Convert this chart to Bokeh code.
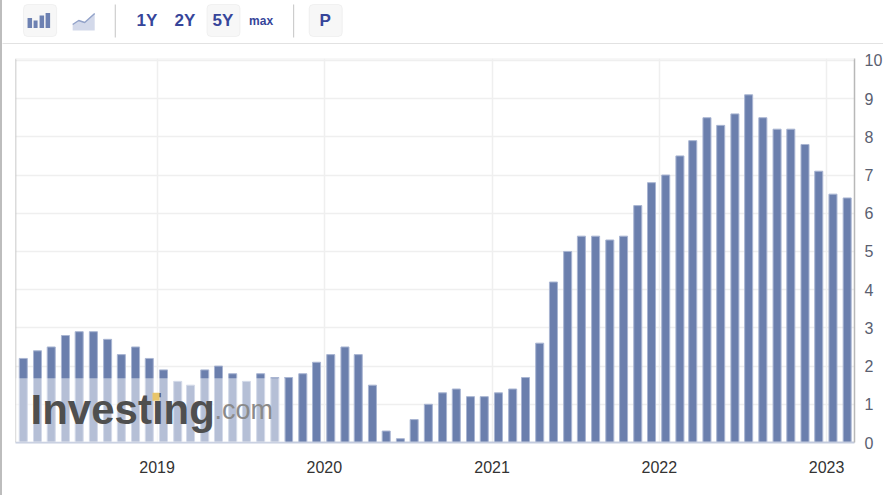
from datetime import datetime, timezone
from bokeh.plotting import figure
from bokeh.models import (Range1d, Label, BoxAnnotation, Span, FixedTicker,
                          DatetimeTickFormatter, ColumnDataSource)
from bokeh.core.properties import value
from bokeh.embed import file_html
from bokeh.resources import INLINE

months = [f"{y}-{m:02d}" for y in range(2018, 2024) for m in range(1, 13)][2:62]
inflation = [2.2, 2.4, 2.5, 2.8, 2.9, 2.9, 2.7, 2.3, 2.5, 2.2,
             1.9, 1.6, 1.5, 1.9, 2.0, 1.8, 1.6, 1.8, 1.7, 1.7, 1.8, 2.1,
             2.3, 2.5, 2.3, 1.5, 0.3, 0.1, 0.6, 1.0, 1.3, 1.4, 1.2, 1.2,
             1.3, 1.4, 1.7, 2.6, 4.2, 5.0, 5.4, 5.4, 5.3, 5.4, 6.2, 6.8,
             7.0, 7.5, 7.9, 8.5, 8.3, 8.6, 9.1, 8.5, 8.2, 8.2, 7.8, 7.1,
             6.5, 6.4]
y_ticks = list(range(0, 11))
year_ticks = [2019, 2020, 2021, 2022, 2023]
range_buttons = ["1Y", "2Y", "5Y", "max", "P"]

FONT = "Liberation Sans"
BTN = "#36459a"
W = 883


def page_style(top):
    return {"position": "absolute", "left": "0px", "top": f"{top}px",
            "border-left": "2px solid #bdbdbd"}


# ---------- toolbar strip ----------
bar = figure(width=W, height=44, x_range=Range1d(2, 883), y_range=Range1d(44, 0),
             x_axis_type=None, y_axis_type=None, toolbar_location=None,
             output_backend="svg", min_border=0, outline_line_color=None,
             styles=page_style(0))
bar.grid.visible = False

for l, r in [(23, 56), (206, 239), (308, 341)]:
    bar.add_layout(BoxAnnotation(left=l, right=r, top=4, bottom=36, fill_color="#f7f7f7",
                                 fill_alpha=1, line_color="#dcdcdc", line_width=1,
                                 border_radius=4, level="underlay"))
bar.quad(left=[27, 33, 39, 45], right=[31.5, 37, 43.5, 49.5],
         top=[17.5, 20, 15, 12.5], bottom=[27.5] * 4, fill_color="#6d81b2", line_color=None)
bar.patch([72, 78, 84, 94, 94, 72], [24, 20, 22, 13, 30, 30], fill_color="#d3d9ea", line_color=None)
bar.line([72, 78, 84, 94], [24, 20, 22, 13], line_color="#93a3c9", line_width=1.5)
bar.segment([114.5, 292.5], [4, 4], [114.5, 292.5], [37, 37], line_color="#c4c4c4", line_width=1)
bar.segment([0], [43.5], [883], [43.5], line_color="#c4c4c4", line_width=1)
bar.text([146, 184, 222, 260, 324], [20, 20, 20, 20, 20], text=range_buttons,
         text_font=value(FONT), text_font_style="bold", text_color=BTN,
         text_font_size=["17px", "17px", "17px", "12px", "17px"],
         text_align="center", text_baseline="middle")

# ---------- chart ----------
dates = [datetime.strptime(m + "-15", "%Y-%m-%d") for m in months]
src = ColumnDataSource(dict(x=dates, y=inflation))
year_ms = [datetime(y, 1, 1, tzinfo=timezone.utc).timestamp() * 1000 for y in year_ticks]

p = figure(width=W, height=451, x_axis_type="datetime", y_axis_location="right",
           x_range=Range1d(datetime(2018, 2, 26), datetime(2023, 3, 3)),
           y_range=Range1d(0, 10.05), toolbar_location=None, output_backend="svg",
           min_border_left=13, min_border_right=29, min_border_top=14, min_border_bottom=53,
           outline_line_color=None, background_fill_color="white",
           styles=page_style(44))

p.vbar(x="x", top="y", bottom=0, width=17.5 * 24 * 3600 * 1000, source=src,
       fill_color="#6b7fad", line_color="#a9b5d2", line_width=1)

p.grid.grid_line_color = "#efefef"
p.grid.grid_line_width = 1.5
p.yaxis.ticker = FixedTicker(ticks=y_ticks)
p.xaxis.ticker = FixedTicker(ticks=year_ms)
p.xaxis.formatter = DatetimeTickFormatter(years="%Y", months="%Y", days="%Y", hours="%Y", context=None)
p.xgrid.ticker = FixedTicker(ticks=year_ms)
p.ygrid.ticker = FixedTicker(ticks=y_ticks)

for ax, col in [(p.yaxis[0], "#5a6070"), (p.xaxis[0], "#333333")]:
    ax.major_tick_line_color = None
    ax.minor_tick_line_color = None
    ax.major_label_text_font = FONT
    ax.major_label_text_font_size = "16px"
    ax.major_label_text_color = col
p.yaxis.axis_line_color = "#b8b8b8"
p.yaxis.axis_line_width = 1.5
p.yaxis.major_label_standoff = 4
p.xaxis.axis_line_color = "#c3cbde"
p.xaxis.axis_line_width = 2
p.xaxis.major_label_standoff = 12

p.add_layout(Span(location=0, location_units="screen", dimension="height",
                  line_color="#b8b8b8", line_width=1.5))
p.add_layout(Span(location=10.05, dimension="width", line_color="#efefef", line_width=2))

# ---------- watermark ----------
p.add_layout(BoxAnnotation(left=0, right=270, left_units="screen", right_units="screen",
                           top=1.68, bottom=0, fill_color="white", fill_alpha=0.5,
                           line_color=None, level="overlay"))
p.add_layout(Label(x=15, y=33, x_units="screen", y_units="screen", text="Investing",
                   text_font=FONT, text_font_style="bold", text_font_size="42px",
                   text_color="#4f4f4f", text_baseline="alphabetic", level="overlay"))
p.add_layout(Label(x=199, y=33, x_units="screen", y_units="screen", text=".com",
                   text_font=FONT, text_font_size="27px",
                   text_color="#8a8a8a", text_baseline="alphabetic", level="overlay"))
p.add_layout(BoxAnnotation(left=137, right=144, left_units="screen", right_units="screen",
                           top=1.3, bottom=1.09, fill_color="#e8c56a", fill_alpha=1,
                           line_color=None, level="overlay"))

open("out.html", "w").write(file_html([bar, p], INLINE))
